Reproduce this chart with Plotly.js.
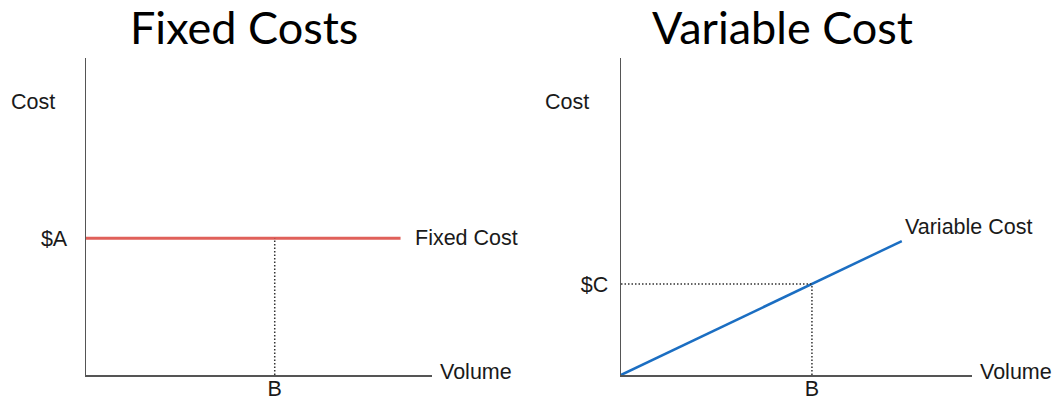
<!DOCTYPE html>
<html>
<head>
<meta charset="utf-8">
<script src="https://cdn.plot.ly/plotly-3.0.1.min.js"></script>
<style>
  html, body { margin: 0; padding: 0; background: #fff; }
  #chart { width: 1055px; height: 400px; }
</style>
</head>
<body>
<div id="chart"></div>
<script>
// Volume runs from 0 to the end of each cost line
const volume = [0, 10];
// Fixed costs stay flat at $A whatever the volume
const fixedCost = [5, 5];
const fixedLevel = 5;          // $A
const fixedVolumeB = 6;        // B on the fixed-cost chart
// Variable costs rise in proportion to volume
const variableCost = [0, 4.9];
const variableVolumeB = 6.8;   // B on the variable-cost chart
const variableLevelC = 3.33;   // $C, the variable cost at B

const titles = ["Fixed Costs", "Variable Cost"];
const lineNames = ["Fixed Cost", "Variable Cost"];
const axisTitleY = "Cost";
const axisTitleX = "Volume";
const costTickLabels = ["$A", "$C"];
const volumeTickLabel = "B";

const labelFont = { family: "Liberation Sans, Arial, sans-serif", size: 21.5, color: "#1a1a1a" };
const titleFont = { family: "Lato, 'Open Sans', sans-serif", size: 45, color: "#000" };
const axisColor = "#555";
const dotStyle = { color: "#333", width: 1.5, dash: "1.5px,2px" };

const traces = [
  { x: volume, y: fixedCost, xaxis: "x", yaxis: "y", mode: "lines",
    line: { color: "#e0605a", width: 3 }, cliponaxis: false },
  { x: [fixedVolumeB, fixedVolumeB], y: [0, fixedLevel], xaxis: "x", yaxis: "y",
    mode: "lines", line: dotStyle },
  { x: volume, y: variableCost, xaxis: "x2", yaxis: "y2", mode: "lines",
    line: { color: "#1b6ec2", width: 2.5 }, cliponaxis: false },
  { x: [0, variableVolumeB], y: [variableLevelC, variableLevelC], xaxis: "x2", yaxis: "y2",
    mode: "lines", line: dotStyle },
  { x: [variableVolumeB, variableVolumeB], y: [0, variableLevelC], xaxis: "x2", yaxis: "y2",
    mode: "lines", line: dotStyle }
];

const W = 1055, H = 400;
const yDomain = [(H - 375) / H, (H - 58) / H];

function xAxis(domain, range, tick) {
  return {
    domain: domain, range: range, showgrid: false, zeroline: false,
    showline: true, linecolor: axisColor, linewidth: 1.5,
    tickmode: "array", tickvals: [tick], ticktext: [volumeTickLabel],
    ticks: "", tickfont: labelFont, ticklabelstandoff: -6, fixedrange: true
  };
}
function yAxis(anchor, range, tick, text, standoff) {
  return {
    domain: yDomain, range: range, anchor: anchor, showgrid: false, zeroline: false,
    showline: true, linecolor: axisColor, linewidth: 1.5,
    tickmode: "array", tickvals: [tick], ticktext: [text],
    ticks: "", tickfont: labelFont, ticklabelstandoff: standoff, fixedrange: true
  };
}

const layout = {
  width: W, height: H,
  margin: { l: 0, r: 0, t: 0, b: 0 },
  paper_bgcolor: "#fff", plot_bgcolor: "#fff",
  showlegend: false,
  xaxis: xAxis([86 / W, 432 / W], [0, 11], fixedVolumeB),
  yaxis: yAxis("x", [0, 11.6], fixedLevel, costTickLabels[0], 13),
  xaxis2: Object.assign(xAxis([621 / W, 972 / W], [0, 12.5], variableVolumeB), { anchor: "y2" }),
  yaxis2: yAxis("x2", [0, 11.6], variableLevelC, costTickLabels[1], 7),
  annotations: [
    { text: titles[0], xref: "paper", yref: "paper", x: 244 / W, y: 1 - 27 / H,
      xanchor: "center", yanchor: "middle", showarrow: false, font: titleFont },
    { text: titles[1], xref: "paper", yref: "paper", x: 782 / W, y: 1 - 27 / H,
      xanchor: "center", yanchor: "middle", showarrow: false, font: titleFont },
    { text: axisTitleY, xref: "paper", yref: "y", x: 9 / W, y: 10,
      xanchor: "left", yanchor: "middle", showarrow: false, font: labelFont },
    { text: axisTitleY, xref: "paper", yref: "y2", x: 543 / W, y: 10,
      xanchor: "left", yanchor: "middle", showarrow: false, font: labelFont },
    { text: axisTitleX, xref: "x domain", yref: "y", x: 1, y: 0, xshift: 6, yshift: 3,
      xanchor: "left", yanchor: "middle", showarrow: false, font: labelFont },
    { text: axisTitleX, xref: "x2 domain", yref: "y2", x: 1, y: 0, xshift: 6, yshift: 3,
      xanchor: "left", yanchor: "middle", showarrow: false, font: labelFont },
    { text: lineNames[0], xref: "x", yref: "y", x: volume[1], y: fixedCost[1], xshift: 12,
      xanchor: "left", yanchor: "middle", showarrow: false, font: labelFont },
    { text: lineNames[1], xref: "x2", yref: "y2", x: volume[1], y: variableCost[1], xshift: 1, yshift: 14,
      xanchor: "left", yanchor: "middle", showarrow: false, font: labelFont }
  ]
};

Plotly.newPlot("chart", traces, layout, { displayModeBar: false, staticPlot: true });
</script>
</body>
</html>
